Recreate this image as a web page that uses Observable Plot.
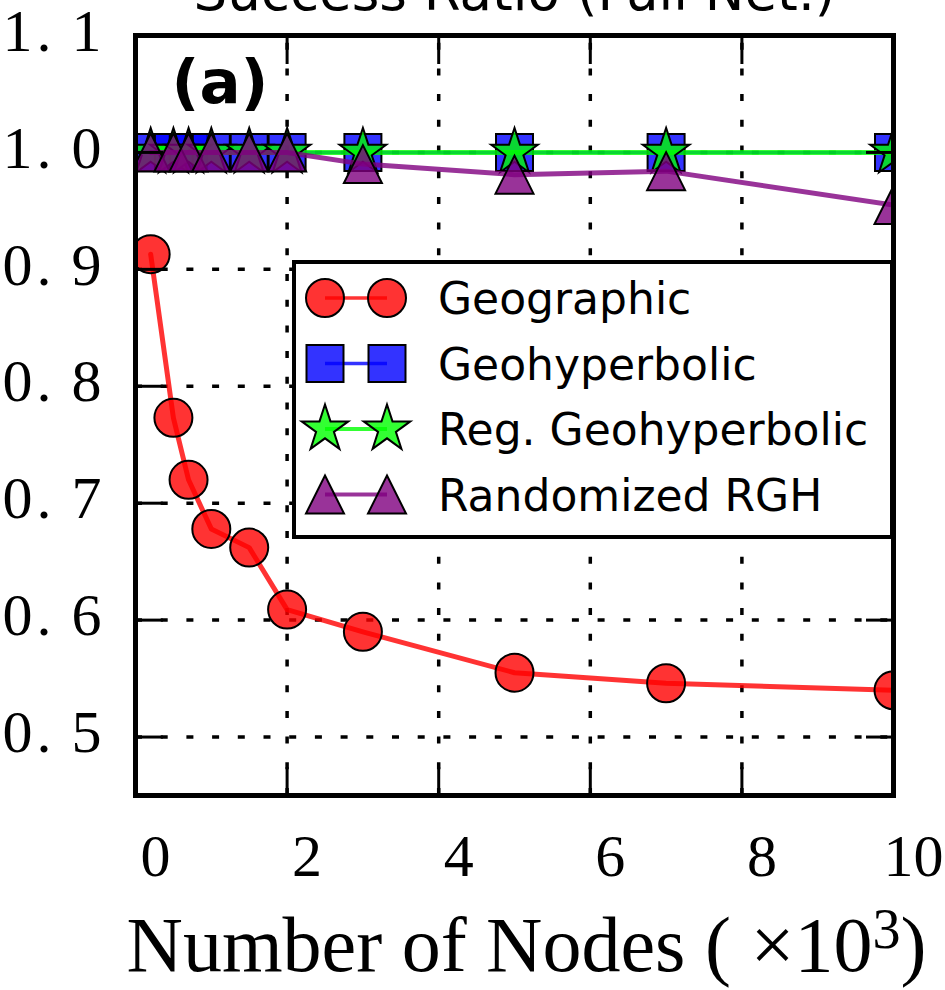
<!DOCTYPE html>
<html><head><meta charset="utf-8">
<script src="https://cdn.jsdelivr.net/npm/d3@7"></script>
<script src="https://cdn.jsdelivr.net/npm/@observablehq/plot@0.6"></script>
<style>
html,body{margin:0;padding:0;background:#fff;}
#wrap{position:relative;width:945px;height:990px;overflow:hidden;}
#wrap svg{display:block;}
#legend{position:absolute;left:0;top:0;pointer-events:none;}
</style></head><body><div id="wrap"></div>
<script>
// ---- data ----
const xNodes = [0.2, 0.5, 0.7, 1.0, 1.5, 2, 3, 5, 7, 10];
const geographic = [0.913, 0.773, 0.720, 0.678, 0.662, 0.609, 0.590, 0.555, 0.546, 0.540];
const geohyperbolic = [1, 1, 1, 1, 1, 1, 1, 1, 1, 1];
const regGeohyperbolic = [1, 1, 1, 1, 1, 1, 1, 1, 1, 1];
const randomizedRGH = [1, 1, 1, 1, 1, 1, 0.990, 0.981, 0.984, 0.955];
const seriesNames = ["Geographic", "Geohyperbolic", "Reg. Geohyperbolic", "Randomized RGH"];
const xTicks = [0, 2, 4, 6, 8, 10];
const yTicks = [0.5, 0.6, 0.7, 0.8, 0.9, 1.0, 1.1];
const xDomain = [0, 10];
const yDomain = [0.45, 1.1];
const titleText = "Success Ratio (Full Net.)";
const panelLabel = "(a)";
const xLabelParts = ["Number of Nodes ( \u00d710", "3", ")"];

// ---- matplotlib-like marker shapes ----
const mplSquare = {draw(ctx, size) { const h = Math.sqrt(size / Math.PI); ctx.rect(-h, -h, 2 * h, 2 * h); }};
const mplTriangle = {draw(ctx, size) { const h = Math.sqrt(size / Math.PI); ctx.moveTo(0, -h); ctx.lineTo(h, h); ctx.lineTo(-h, h); ctx.closePath(); }};
const mplStar = {draw(ctx, size) {
  const R = Math.sqrt(size / Math.PI), r = R * 0.381966;
  for (let i = 0; i < 10; i++) {
    const a = -Math.PI / 2 + i * Math.PI / 5, rr = i % 2 ? r : R;
    const px = rr * Math.cos(a), py = rr * Math.sin(a);
    if (i === 0) ctx.moveTo(px, py); else ctx.lineTo(px, py);
  }
  ctx.closePath();
}};

const styles = [
  {color: "#ff0000", lineWidth: 5, legendLine: 3.5, symbol: "circle", r: 19},
  {color: "#0000ff", lineWidth: 3, legendLine: 3.5, symbol: mplSquare, r: 18.5},
  {color: "#00ff00", lineWidth: 5, legendLine: 4, symbol: mplStar, r: 24.5},
  {color: "#800080", lineWidth: 5, legendLine: 4, symbol: mplTriangle, r: 19}
];

const seriesValues = [geographic, geohyperbolic, regGeohyperbolic, randomizedRGH];
const seriesData = seriesValues.map((vals, i) => xNodes.map((x, j) => ({x, y: vals[j], series: seriesNames[i]})));

const grid = {stroke: "#000", strokeWidth: 3.5, strokeDasharray: "7,18.7", strokeOpacity: 1};
const tickStyle = {strokeWidth: 3, stroke: "#000"};
const serif = "'Liberation Serif', 'Times New Roman', serif";
const xLabelFull = xLabelParts.join("");

const marks = [
  Plot.ruleY(yTicks.slice(0, -1), {y: d => d, x1: xDomain[0], x2: xDomain[1], ...grid}),
  Plot.ruleX(xTicks.slice(1, -1), {x: d => d, y1: yDomain[0], y2: yDomain[1], ...grid})
];
seriesData.forEach((data, i) => {
  const s = styles[i];
  marks.push(Plot.line(data, {x: "x", y: "y", stroke: s.color, strokeWidth: s.lineWidth, strokeOpacity: 0.8, clip: true}));
  marks.push(Plot.dot(data, {x: "x", y: "y", symbol: s.symbol, r: s.r, fill: s.color, fillOpacity: 0.8, stroke: "#000", strokeWidth: 2, clip: true}));
});
marks.push(
  Plot.axisX({anchor: "bottom", ticks: xTicks, tickSize: 0, tickPadding: 38, dx: 20, fontSize: 60, fontFamily: serif, label: null}),
  Plot.axisX({anchor: "bottom", ticks: xTicks, text: null, tickSize: 28, dy: -28, label: null, ...tickStyle}),
  Plot.axisX({anchor: "top", ticks: xTicks, text: null, tickSize: 28, dy: 28, label: null, ...tickStyle}),
  Plot.axisY({anchor: "left", ticks: yTicks, tickSize: 0, tickPadding: 30, dy: -4, fontSize: 60, fontFamily: serif,
    tickFormat: d => d.toFixed(1).replace(".", ".\u2009"), label: null}),
  Plot.axisY({anchor: "left", ticks: yTicks, text: null, tickSize: 28, dx: 28, label: null, ...tickStyle}),
  Plot.axisY({anchor: "right", ticks: yTicks, text: null, tickSize: 28, dx: -28, label: null, ...tickStyle}),
  Plot.frame({stroke: "#000", strokeWidth: 5}),
  Plot.text([titleText], {text: d => d, frameAnchor: "top", lineAnchor: "middle", dy: -42, fontSize: 53, fontFamily: "DejaVu Sans"}),
  Plot.text([panelLabel], {text: d => d, frameAnchor: "top-left", textAnchor: "start", lineAnchor: "top", dx: 36, dy: 24, fontSize: 61, fontWeight: "bold", fontFamily: "DejaVu Sans"}),
  Plot.text([xLabelFull], {text: d => d, frameAnchor: "bottom", lineAnchor: "middle", dx: 12, dy: 151, fontSize: 78, fontFamily: serif})
);

const chart = Plot.plot({
  width: 945, height: 990,
  marginLeft: 135, marginRight: 52, marginTop: 35, marginBottom: 195,
  x: {domain: xDomain, axis: null},
  y: {domain: yDomain, axis: null},
  style: {background: "white", overflow: "visible", fontFamily: "DejaVu Sans"},
  marks
});
const wrap = document.getElementById("wrap");
wrap.appendChild(chart);

// widen the y tick labels a little (mathtext-like spacing)
d3.select(chart).selectAll("text").filter(function () { return /^\d\.\u2009\d$/.test(this.textContent); })
  .style("letter-spacing", "4px");

// real superscript for the exponent in the x label
d3.select(chart).selectAll("text").filter(function () { return this.textContent === xLabelFull; })
  .each(function () {
    const t = d3.select(this);
    t.text(null);
    t.append("tspan").text(xLabelParts[0]);
    t.append("tspan").attr("dy", "-0.42em").attr("font-size", "0.72em").text(xLabelParts[1]);
    t.append("tspan").attr("dy", "0.3em").text(xLabelParts[2]);
  });

// ---- legend (overlay) ----
const leg = d3.select(wrap).append("svg").attr("id", "legend").attr("width", 945).attr("height", 990);
const box = {x: 294, y: 262, w: 598, h: 275};
leg.append("rect").attr("x", box.x).attr("y", box.y).attr("width", box.w).attr("height", box.h)
  .attr("fill", "#fff").attr("stroke", "#000").attr("stroke-width", 4);
seriesNames.forEach((name, i) => {
  const s = styles[i];
  const cy = 298 + i * 65.5;
  const g = leg.append("g");
  g.append("line").attr("x1", 325).attr("x2", 387).attr("y1", cy).attr("y2", cy)
    .attr("stroke", s.color).attr("stroke-opacity", 0.8).attr("stroke-width", s.legendLine);
  const sym = s.symbol === "circle" ? d3.symbolCircle : s.symbol;
  [325, 387].forEach(mx => {
    g.append("path").attr("d", d3.symbol(sym, Math.PI * s.r * s.r)())
      .attr("transform", `translate(${mx},${cy})`)
      .attr("fill", s.color).attr("fill-opacity", 0.8).attr("stroke", "#000").attr("stroke-width", 2);
  });
  g.append("text").attr("x", 438).attr("y", cy + 16).attr("font-family", "DejaVu Sans").attr("font-size", 44)
    .attr("fill", "#000").text(name);
});
</script></body></html>
